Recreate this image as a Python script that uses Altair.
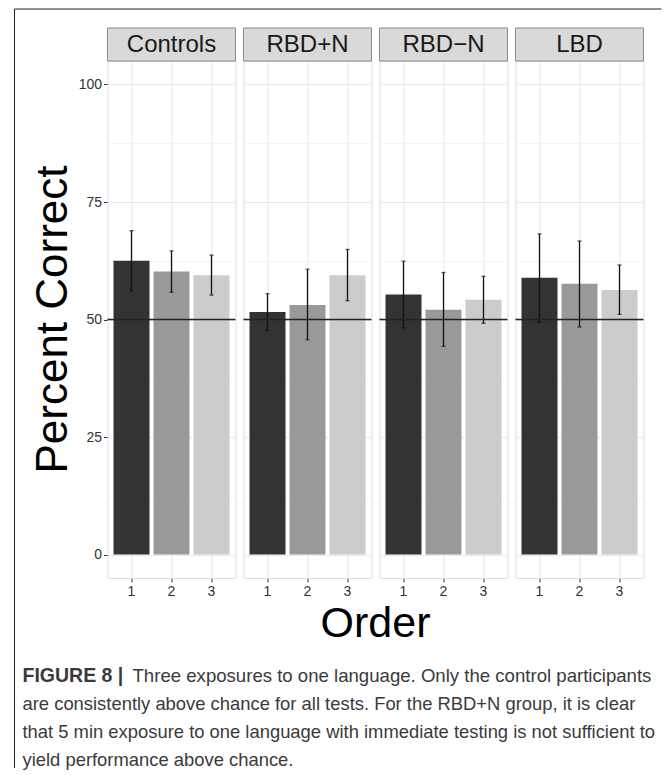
import altair as alt
import pandas as pd

# ---- data ----
groups = ["Controls", "RBD+N", "RBD\u2212N", "LBD"]
orders = [1, 2, 3]
means = {
    "Controls": [62.5, 60.2, 59.4],
    "RBD+N": [51.6, 53.1, 59.4],
    "RBD\u2212N": [55.3, 52.1, 54.2],
    "LBD": [58.9, 57.6, 56.3],
}
lowers = {
    "Controls": [56.1, 55.8, 55.2],
    "RBD+N": [47.7, 45.7, 54.0],
    "RBD\u2212N": [48.2, 44.3, 49.2],
    "LBD": [49.4, 48.4, 51.1],
}
uppers = {
    "Controls": [68.9, 64.6, 63.7],
    "RBD+N": [55.5, 60.7, 64.9],
    "RBD\u2212N": [62.4, 60.0, 59.2],
    "LBD": [68.2, 66.7, 61.6],
}
fill_colors = ["#333333", "#999999", "#cccccc"]
y_ticks = [0, 12.5, 25, 37.5, 50, 62.5, 75, 87.5, 100]
chance = 50
caption_bold = "FIGURE 8 |"
caption_first = "Three exposures to one language. Only the control participants"
caption_rest = [
    "are consistently above chance for all tests. For the RBD+N group, it is clear",
    "that 5 min exposure to one language with immediate testing is not sufficient to",
    "yield performance above chance.",
]

rows = []
for g in groups:
    for i, o in enumerate(orders):
        rows.append({"group": g, "order": o, "mean": means[g][i],
                     "lo": lowers[g][i], "hi": uppers[g][i]})
df = pd.DataFrame(rows)

FONT = "Liberation Sans, Arial, Helvetica, sans-serif"
W, H = 128, 517

minor_test = "datum.value % 25 != 0"
y_scale = alt.Scale(domain=[-5, 105], nice=False, zero=False)
y_axis = alt.Axis(
    title="Percent Correct", values=y_ticks,
    labelExpr="datum.value % 25 == 0 ? datum.label : ''",
    labelFontSize=14, labelColor="#333333", labelFont=FONT, labelPadding=2,
    tickSize=4, tickColor="#333333",
    tickOpacity={"condition": {"test": minor_test, "value": 0}, "value": 1},
    gridColor={"condition": {"test": minor_test, "value": "#f3f3f3"}, "value": "#e8e8e8"},
    domain=False,
    titleFont=FONT, titleFontSize=44, titleFontWeight="normal", titleColor="#000000",
    titleAngle=270, titleAlign="center", titleBaseline="middle",
    titleX=-54, titleY=258,
)
x_scale = alt.Scale(paddingInner=0.1, paddingOuter=0.15)
x_axis = alt.Axis(
    title=None, labelAngle=0, labelFontSize=14, labelColor="#333333", labelFont=FONT,
    labelPadding=2, tickSize=4, tickColor="#333333", domain=False,
    grid=True, gridColor="#e8e8e8",
)

base = alt.Chart(df)

bars = base.mark_bar().encode(
    x=alt.X("order:O", scale=x_scale, axis=x_axis),
    y=alt.Y("mean:Q", scale=y_scale, axis=y_axis),
    y2=alt.datum(0),
    color=alt.Color("order:O", scale=alt.Scale(domain=orders, range=fill_colors), legend=None),
)
err = base.mark_rule(color="#111111", strokeWidth=1.3).encode(
    x="order:O", y=alt.Y("lo:Q", title="Percent Correct"), y2="hi:Q"
)
cap_hi = base.mark_tick(color="#111111", thickness=1.3, size=4).encode(
    x="order:O", y=alt.Y("hi:Q", title="Percent Correct")
)
cap_lo = base.mark_tick(color="#111111", thickness=1.3, size=4).encode(
    x="order:O", y=alt.Y("lo:Q", title="Percent Correct")
)
first = base.transform_filter("datum.order == 1")
hline = first.mark_rule(color="#222222", strokeWidth=1.3).encode(y=alt.datum(chance))
strip = first.mark_rect(fill="#d9d9d9", stroke="#8a8a8a", strokeWidth=1).encode(
    x=alt.value(0), x2=alt.value("width"), y=alt.value(-33), y2=alt.value(0)
)
strip_text = first.mark_text(font=FONT, fontSize=24, color="#1a1a1a",
                             align="center", baseline="middle").encode(
    x=alt.value(W / 2), y=alt.value(-16.5), text="group:N"
)

only = base.transform_filter("datum.order == 1 && datum.group == 'Controls'")
order_title = only.mark_text(font=FONT, fontSize=43, color="#000000",
                             align="center", baseline="alphabetic").encode(
    x=alt.value(268), y=alt.value(576), text=alt.value("Order")
)
cap1b = only.mark_text(font=FONT, fontSize=19.5, fontWeight="bold", color="#3a3a3a",
                       align="left", baseline="alphabetic").encode(
    x=alt.value(-85), y=alt.value(621), text=alt.value(caption_bold)
)
cap1 = only.mark_text(font=FONT, fontSize=18.6, color="#3a3a3a",
                      align="left", baseline="alphabetic").encode(
    x=alt.value(25), y=alt.value(621), text=alt.value(caption_first)
)
cap2 = only.mark_text(font=FONT, fontSize=18.4, color="#3a3a3a", lineHeight=28,
                      align="left", baseline="alphabetic").encode(
    x=alt.value(-85), y=alt.value(649), text=alt.value(caption_rest)
)
frame_v = only.mark_rule(color="#222222", strokeWidth=1).encode(
    x=alt.value(-93), y=alt.value(-52), y2=alt.value(707)
)
frame_h = only.mark_rule(color="#222222", strokeWidth=1).encode(
    x=alt.value(-93), x2=alt.value(554), y=alt.value(-52)
)

layered = alt.layer(
    bars, err, cap_hi, cap_lo, hline, strip, strip_text,
    order_title, cap1b, cap1, cap2, frame_v, frame_h
).properties(width=W, height=H)

chart = layered.facet(
    column=alt.Column("group:N", sort=groups, header=alt.Header(labels=False, title=None)),
    spacing=8,
    bounds="flush",
).properties(
    padding={"left": 5.5, "top": 0, "right": 0, "bottom": 0}
).configure_view(
    stroke="#8a8a8a", strokeWidth=1
).configure(
    background="white"
)

chart.save("out.html", embed_options={"renderer": "svg", "actions": False})
